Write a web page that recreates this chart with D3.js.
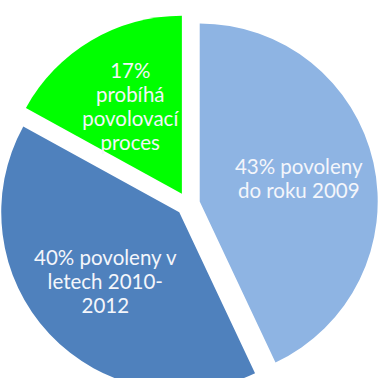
<!DOCTYPE html>
<html>
<head>
<meta charset="utf-8">
<script src="https://cdn.jsdelivr.net/npm/d3@7"></script>
<style>
  html, body { margin: 0; padding: 0; background: #ffffff; overflow: hidden; }
  svg { display: block; }
</style>
</head>
<body>
<svg id="chart" width="385" height="378"></svg>
<script>
// Stav povolování (podíl v %)
const categories = ["povoleny do roku 2009", "povoleny v letech 2010-2012", "probíhá povolovací proces"];
const values = [43, 40, 17];
const labelLines = [
  ["43% povoleny", "do roku 2009"],
  ["40% povoleny v", "letech 2010-", "2012"],
  ["17%", "probíhá", "povolovací", "proces"]
];
const colors = ["#8EB4E3", "#4F81BD", "#00FF00"];

const width = 385, height = 378;
const cx = 188, cy = 204, radius = 178, explode = 12;

const svg = d3.select("#chart");
const g = svg.append("g").attr("transform", `translate(${cx},${cy})`);

const pie = d3.pie().sort(null).value(d => d.value);
const data = pie(categories.map((c, i) => ({ name: c, value: values[i], lines: labelLines[i], color: colors[i] })));

const arc = d3.arc().innerRadius(0).outerRadius(radius);
const labelArc = d3.arc().innerRadius(radius * 0.57).outerRadius(radius * 0.57);

// each slice is pushed outward along its bisector
const offset = d => {
  const a = (d.startAngle + d.endAngle) / 2;
  return [Math.sin(a) * explode, -Math.cos(a) * explode];
};

const slices = g.selectAll("g.slice")
  .data(data)
  .join("g")
  .attr("class", "slice")
  .attr("transform", d => { const [x, y] = offset(d); return `translate(${x},${y})`; });

slices.append("path")
  .attr("d", arc)
  .attr("fill", d => d.data.color);

const lineH = 24;
slices.append("text")
  .attr("transform", d => { const [x, y] = labelArc.centroid(d); return `translate(${x},${y})`; })
  .attr("text-anchor", "middle")
  .attr("fill", "#f4f6fb")
  .style("font-family", "Lato, 'Open Sans', sans-serif")
  .style("font-size", "20.5px")
  .selectAll("tspan")
  .data(d => d.data.lines.map((t, i, arr) => ({ t, i, n: arr.length })))
  .join("tspan")
  .attr("x", 0)
  .attr("y", d => (d.i - (d.n - 1) / 2) * lineH)
  .attr("dy", "0.35em")
  .text(d => d.t);
</script>
</body>
</html>
